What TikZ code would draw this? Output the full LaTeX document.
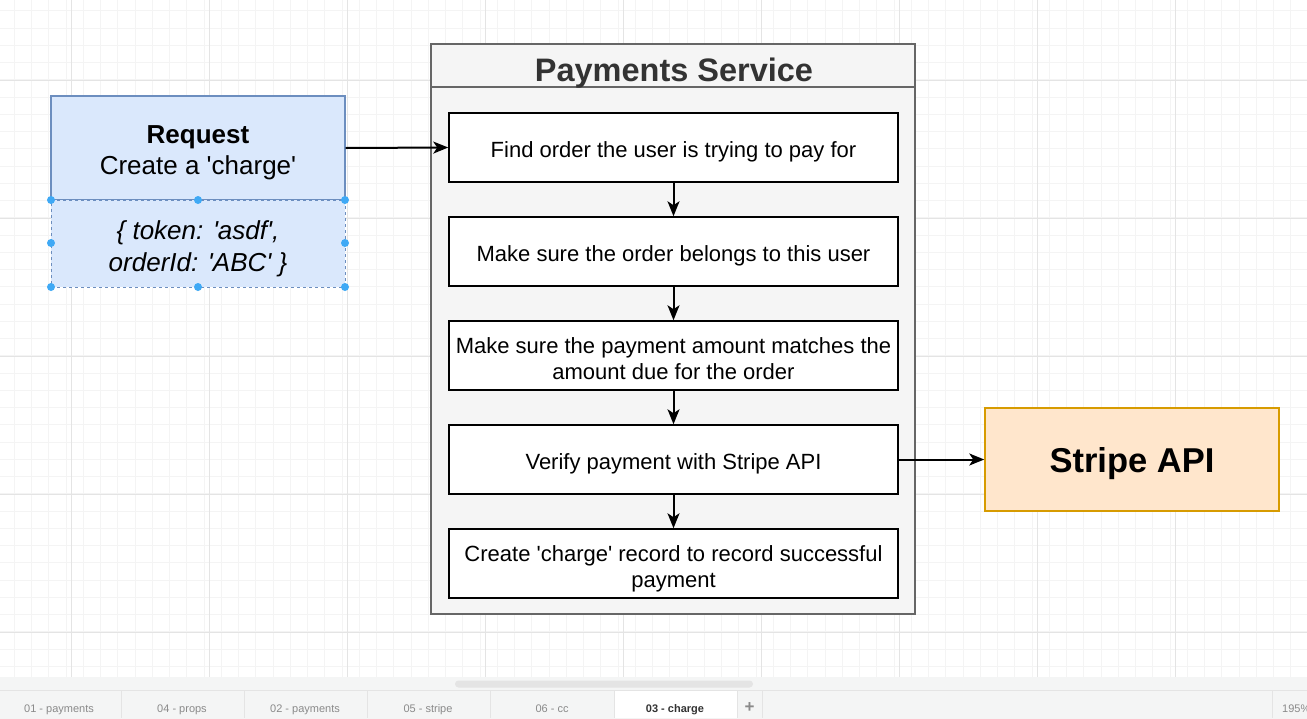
\documentclass[tikz,border=0pt]{standalone}
\usepackage{fontspec}
\setmainfont{Liberation Sans}[Ligatures=TeXOff]
\usetikzlibrary{arrows.meta}
\definecolor{reqfill}{HTML}{DAE8FC}
\definecolor{reqline}{HTML}{6C8EBF}
\definecolor{svcfill}{HTML}{F5F5F5}
\definecolor{svcline}{HTML}{666666}
\definecolor{svctext}{HTML}{333333}
\definecolor{apifill}{HTML}{FFE6CC}
\definecolor{apiline}{HTML}{D79B00}
\definecolor{gridminor}{HTML}{F4F4F4}
\definecolor{gridmajor}{HTML}{E4E4E4}
\definecolor{handle}{HTML}{3FA9F5}
\definecolor{tabbg}{HTML}{F4F5F5}
\definecolor{tabtext}{HTML}{8A8A8A}
\tikzset{
  stepbox/.style={draw=black, line width=1.5pt, fill=white, minimum width=449pt, minimum height=69pt, inner sep=0pt},
  steptext/.style={align=center, inner sep=0pt, text depth=0pt, font=\fontsize{22}{26}\selectfont},
  flow/.style={line width=2pt, -{Stealth[length=15pt,width=12pt,inset=4pt]}},
  dot/.style={circle, fill=handle, minimum size=8pt, inner sep=0pt},
  tablabel/.style={text=tabtext, anchor=base, font=\fontsize{11}{13}\selectfont},
  tabsep/.style={draw=gridmajor, line width=0.8pt}
}
\begin{document}
\begin{tikzpicture}[x=1pt,y=-1pt]
\useasboundingbox (0,0) rectangle (1307,718);
\clip (0,0) rectangle (1307,718);
\fill[white] (0,0) rectangle (1307,718);
% grid
\foreach \i in {0,...,80} {
  \draw[gridminor, line width=0.8pt] ({-3+\i*17.25},0) -- ({-3+\i*17.25},690);
}
\foreach \i in {0,...,45} {
  \draw[gridminor, line width=0.8pt] (0,{10.75+\i*17.25}) -- (1307,{10.75+\i*17.25});
}
\foreach \x in {71,209,347,485,623,761,899,1037,1175} {
  \draw[gridmajor, line width=1pt] (\x,0) -- (\x,690);
}
\foreach \y in {80,218,356,494,632} {
  \draw[gridmajor, line width=1pt] (0,\y) -- (1307,\y);
}
% request
\node (reqtop) [draw=reqline, fill=reqfill, line width=1.2pt, minimum width=294pt, minimum height=104pt, inner sep=0pt] at (198,148) {};
\node (reqtopt) [align=center, inner sep=0pt, text depth=0pt, font=\fontsize{26}{31}\selectfont] at ([yshift=-2.5pt]reqtop.center)
  {\textbf{Request}\\Create a 'charge'};
\node (reqbot) [draw=reqline, dashed, fill=reqfill, line width=1pt, minimum width=294pt, minimum height=87pt, inner sep=0pt] at (198,243.5) {};
\node (reqbott) [align=center, inner sep=0pt, text depth=0pt, font=\fontsize{26}{32}\selectfont\itshape] at ([yshift=-3pt]reqbot.center)
  {\{ token: 'asdf',\\orderId: 'ABC' \}};
% handles
\foreach \p [count=\k] in {(51,200),(198,200),(345,200),(51,243),(345,243),(51,287),(198,287),(345,287)} {
  \node[dot] (h\k) at \p {};
}
% payments service
\node (svc) [draw=svcline, fill=svcfill, line width=1.5pt, minimum width=484pt, minimum height=570pt, inner sep=0pt] at (673,329) {};
\coordinate (hdrL) at (431,87);
\coordinate (hdrR) at (915,87);
\draw[svcline, line width=1.5pt] (hdrL) -- (hdrR);
\node (svctitle) [text=svctext, text depth=0pt, font=\fontsize{32.5}{36}\selectfont\bfseries] at (674,70) {Payments Service};
\node (s1) [stepbox] at (673.5,147.5) {};
\node (s2) [stepbox] at (673.5,251.5) {};
\node (s3) [stepbox] at (673.5,355.5) {};
\node (s4) [stepbox] at (673.5,459.5) {};
\node (s5) [stepbox] at (673.5,563.5) {};
\node (s1t) [steptext] at ([yshift=-2.5pt]s1.center) {Find order the user is trying to pay for};
\node (s2t) [steptext] at ([yshift=-2.5pt]s2.center) {Make sure the order belongs to this user};
\node (s3t) [steptext] at ([yshift=-3pt]s3.center) {Make sure the payment amount matches the\\amount due for the order};
\node (s4t) [steptext] at ([yshift=-2.5pt]s4.center) {Verify payment with Stripe API};
\node (s5t) [steptext] at ([yshift=-3pt]s5.center) {Create 'charge' record to record successful\\payment};
% stripe api
\node (api) [draw=apiline, fill=apifill, line width=1.5pt, minimum width=294pt, minimum height=103pt, inner sep=0pt,
  text depth=0pt, font=\fontsize{34.5}{40}\selectfont\bfseries] at (1132,459.5) {Stripe API};
% connectors
\draw[flow] (reqtop.east) -- (s1.west);
\draw[flow] (s1) -- (s2);
\draw[flow] (s2) -- (s3);
\draw[flow] (s3) -- (s4);
\draw[flow] (s4) -- (s5);
\draw[flow] (s4.east) -- (api.west);
% bottom bar
\fill[tabbg] (0,677) rectangle (1307,718);
\node (sbar) [fill=gridmajor, rounded corners=3.5pt, minimum width=298pt, minimum height=7pt, inner sep=0pt] at (604,684) {};
\draw[gridmajor, line width=1pt] (0,690) -- (1307,690);
\fill[white] (614,690.5) rectangle (737,718);
\foreach \x in {121,244,367,490,614,737,762,1272} {
  \draw[tabsep] (\x,690.5) -- (\x,718);
}
\node (t1) [tablabel] at (59,712) {01 - payments};
\node (t2) [tablabel] at (182,712) {04 - props};
\node (t3) [tablabel] at (305,712) {02 - payments};
\node (t4) [tablabel] at (428,712) {05 - stripe};
\node (t5) [tablabel] at (552,712) {06 - cc};
\node (t6) [tablabel, text=svctext, font=\fontsize{11}{13}\selectfont\bfseries] at (675,712) {03 - charge};
\node (t7) [tablabel, font=\fontsize{17}{17}\selectfont\bfseries] at (749.5,712) {+};
\node (t8) [tablabel, anchor=base west, inner xsep=0pt] at (1282,712) {195\%};
\end{tikzpicture}
\end{document}
